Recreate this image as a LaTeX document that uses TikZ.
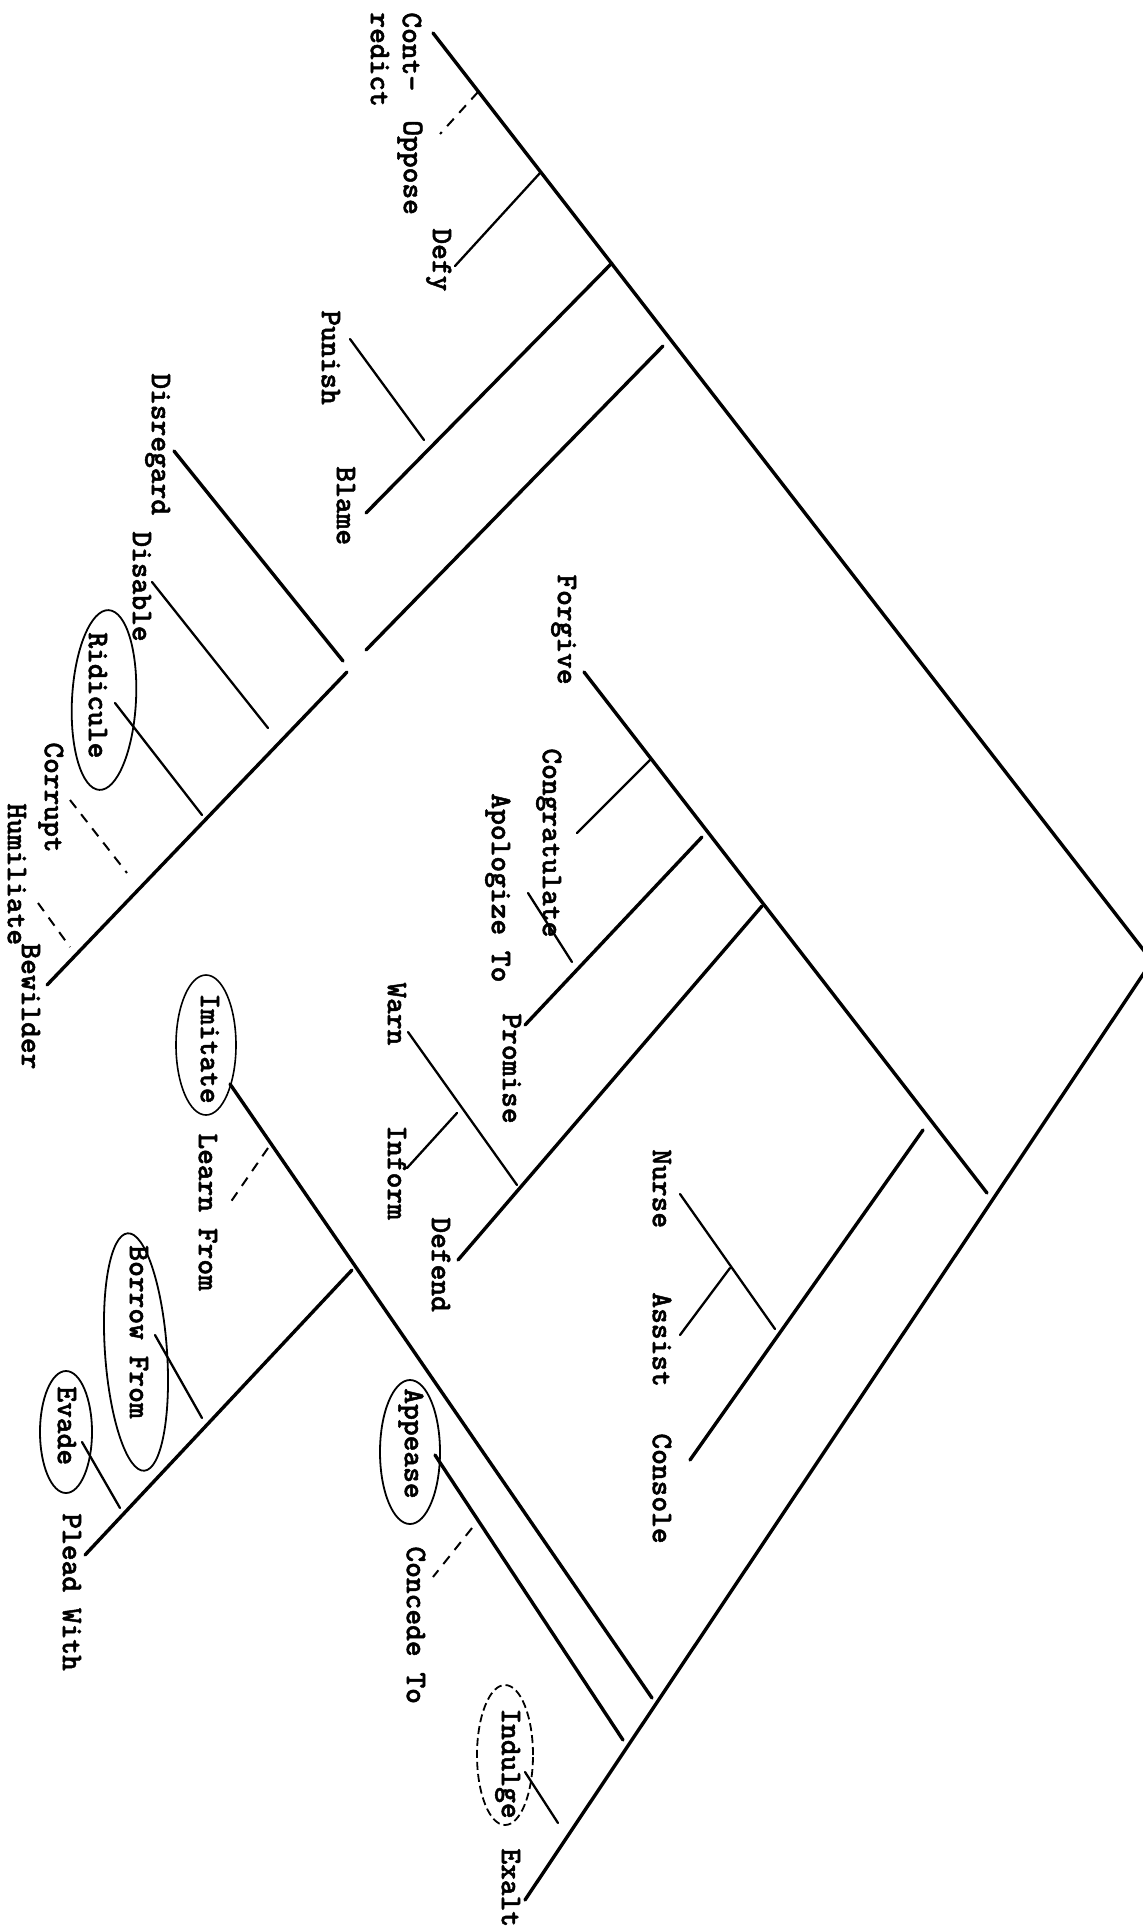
\documentclass[tikz,border=0pt]{standalone}
\usepackage{fontspec}
\newfontfamily\tw{lmmonolt10-bold.otf}[FakeBold=1.6]
\usetikzlibrary{shapes.geometric}
\begin{document}
\begin{tikzpicture}[x=0.5pt,y=-0.5pt,
  br/.style={line width=1.7pt, line cap=round},
  tb/.style={line width=1.15pt, line cap=round},
  db/.style={line width=1pt, dash pattern=on 5pt off 4pt},
  lbl/.style={rotate=-90, anchor=west, inner sep=0pt,
    font={\tw\fontsize{15pt}{17pt}\selectfont},
    text height=9.2pt, text depth=0pt},
  ring/.style={draw, ellipse, inner sep=0pt, line width=0.9pt},
  dring/.style={ring, dash pattern=on 4pt off 2pt}]
\useasboundingbox (0,0) rectangle (1143,1928);

% ---------- junction coordinates ----------
\coordinate (R) at (1152,961);
\coordinate (lContr) at (433,33);
\coordinate (jOpp) at (478,92);   \coordinate (lOpp) at (440,134);
\coordinate (jDefy) at (540,173); \coordinate (lDefy) at (455,266);
\coordinate (jBl) at (612,263);   \coordinate (lBl) at (366,513);
\coordinate (lPun) at (350,339);  \coordinate (jPun) at (424,440);
\coordinate (jC) at (663,346);    \coordinate (eC) at (366,650);
\coordinate (lDisr) at (174,451); \coordinate (eDisr) at (343,661);
\coordinate (lDisa) at (152,582); \coordinate (eDisa) at (268,728);
\coordinate (jBew) at (347,672);  \coordinate (lBew) at (47,985);
\coordinate (lRid) at (115,703);  \coordinate (eRid) at (202,815);
\coordinate (lCor) at (70,800);   \coordinate (eCor) at (127,873);
\coordinate (lHum) at (38,903);   \coordinate (eHum) at (70,947);

\coordinate (lForg) at (584,672); \coordinate (eForg) at (987,1193);
\coordinate (jCong) at (650,760); \coordinate (lCong) at (577,833);
\coordinate (jProm) at (702,837); \coordinate (lProm) at (525,1025);
\coordinate (lApol) at (528,893); \coordinate (eApol) at (572,962);
\coordinate (jDef) at (762,906);  \coordinate (lDef) at (458,1260);
\coordinate (lWarn) at (408,1032);\coordinate (eWarn) at (517,1185);
\coordinate (jInf) at (457,1113); \coordinate (lInf) at (407,1168);
\coordinate (jCons) at (923,1130);\coordinate (lCons) at (690,1460);
\coordinate (lNur) at (680,1194); \coordinate (eNur) at (775,1329);
\coordinate (jAss) at (730,1268); \coordinate (lAss) at (680,1335);

\coordinate (lExalt) at (525,1900);
\coordinate (lImit) at (230,1084);\coordinate (eImit) at (652,1698);
\coordinate (jLearn) at (268,1148);\coordinate (lLearn) at (230,1203);
\coordinate (jPlead) at (352,1270);\coordinate (lPlead) at (85,1555);
\coordinate (lBorr) at (155,1335);\coordinate (eBorr) at (202,1418);
\coordinate (lEva) at (82,1442);  \coordinate (eEva) at (120,1508);
\coordinate (lApp) at (435,1455); \coordinate (eApp) at (623,1740);
\coordinate (jConc) at (472,1528);\coordinate (lConc) at (433,1577);
\coordinate (lInd) at (525,1772); \coordinate (eInd) at (558,1823);

% ---------- connectors ----------
\draw[br] (lContr) -- (R);
\draw[br] (R) -- (lExalt);
\draw[db] (jOpp) -- (lOpp);
\draw[tb] (jDefy) -- (lDefy);
\draw[br] (jBl) -- (lBl);
\draw[tb] (lPun) -- (jPun);
\draw[br] (jC) -- (eC);
\draw[br] (lDisr) -- (eDisr);
\draw[tb] (lDisa) -- (eDisa);
\draw[br] (jBew) -- (lBew);
\draw[tb] (lRid) -- (eRid);
\draw[db] (lCor) -- (eCor);
\draw[db] (lHum) -- (eHum);

\draw[br] (lForg) -- (eForg);
\draw[tb] (jCong) -- (lCong);
\draw[br] (jProm) -- (lProm);
\draw[tb] (lApol) -- (eApol);
\draw[br] (jDef) -- (lDef);
\draw[tb] (lWarn) -- (eWarn);
\draw[tb] (jInf) -- (lInf);
\draw[br] (jCons) -- (lCons);
\draw[tb] (lNur) -- (eNur);
\draw[tb] (jAss) -- (lAss);

\draw[br] (lImit) -- (eImit);
\draw[db] (jLearn) -- (lLearn);
\draw[br] (jPlead) -- (lPlead);
\draw[tb] (lBorr) -- (eBorr);
\draw[tb] (lEva) -- (eEva);
\draw[br] (lApp) -- (eApp);
\draw[db] (jConc) -- (lConc);
\draw[tb] (lInd) -- (eInd);

% ---------- labels ----------
\node[lbl] (tContA) at (412,12) {Cont-};
\node[lbl] (tContB) at (380,12) {redict};
\node[lbl] (tOpp) at (413,120) {Oppose};
\node[lbl] (tDefy) at (442,228) {Defy};
\node[lbl] (tPun) at (331,310) {Punish};
\node[lbl] (tBl) at (346,466) {Blame};
\node[lbl] (tDisr) at (161,373) {Disregard};
\node[lbl] (tDisa) at (142,531) {Disable};
\node[lbl] (tForg) at (567,574) {Forgive};
\node[lbl] (tRid) at (98,632) {Ridicule};
\node[lbl] (tCor) at (54,742) {Corrupt};
\node[lbl] (tHum) at (17,803) {Humiliate};
\node[lbl] (tBew) at (31,943) {Bewilder};
\node[lbl] (tCong) at (552,748) {Congratulate};
\node[lbl] (tApol) at (501,793) {Apologize To};
\node[lbl] (tProm) at (512,1013) {Promise};
\node[lbl] (tWarn) at (397,982) {Warn};
\node[lbl] (tInf) at (397,1125) {Inform};
\node[lbl] (tDef) at (441,1217) {Defend};
\node[lbl] (tImit) at (210,993) {Imitate};
\node[lbl] (tLearn) at (208,1133) {Learn From};
\node[lbl] (tNur) at (662,1149) {Nurse};
\node[lbl] (tAss) at (662,1292) {Assist};
\node[lbl] (tCons) at (662,1433) {Console};
\node[lbl] (tBorr) at (139,1245) {Borrow From};
\node[lbl] (tEva) at (67,1386) {Evade};
\node[lbl] (tPlead) at (72,1513) {Plead With};
\node[lbl] (tApp) at (414,1388) {Appease};
\node[lbl] (tConc) at (416,1546) {Concede To};
\node[lbl] (tInd) at (511,1708) {Indulge};
\node[lbl] (tExalt) at (511,1848) {Exalt};

% ---------- circled words ----------
\node[ring, minimum width=32pt, minimum height=90pt, rotate=-3] (cRid) at (104,700) {};
\node[ring, line width=0.8pt, minimum width=30pt, minimum height=70pt] (cImit) at (206,1045) {};
\node[ring, minimum width=31pt, minimum height=119pt, rotate=4] (cBorr) at (136,1352) {};
\node[ring, minimum width=26pt, minimum height=61pt] (cEva) at (66,1432) {};
\node[ring, minimum width=30pt, minimum height=72pt] (cApp) at (410,1452) {};
\node[dring, minimum width=28pt, minimum height=70pt] (cInd) at (505,1755) {};
\end{tikzpicture}
\end{document}
